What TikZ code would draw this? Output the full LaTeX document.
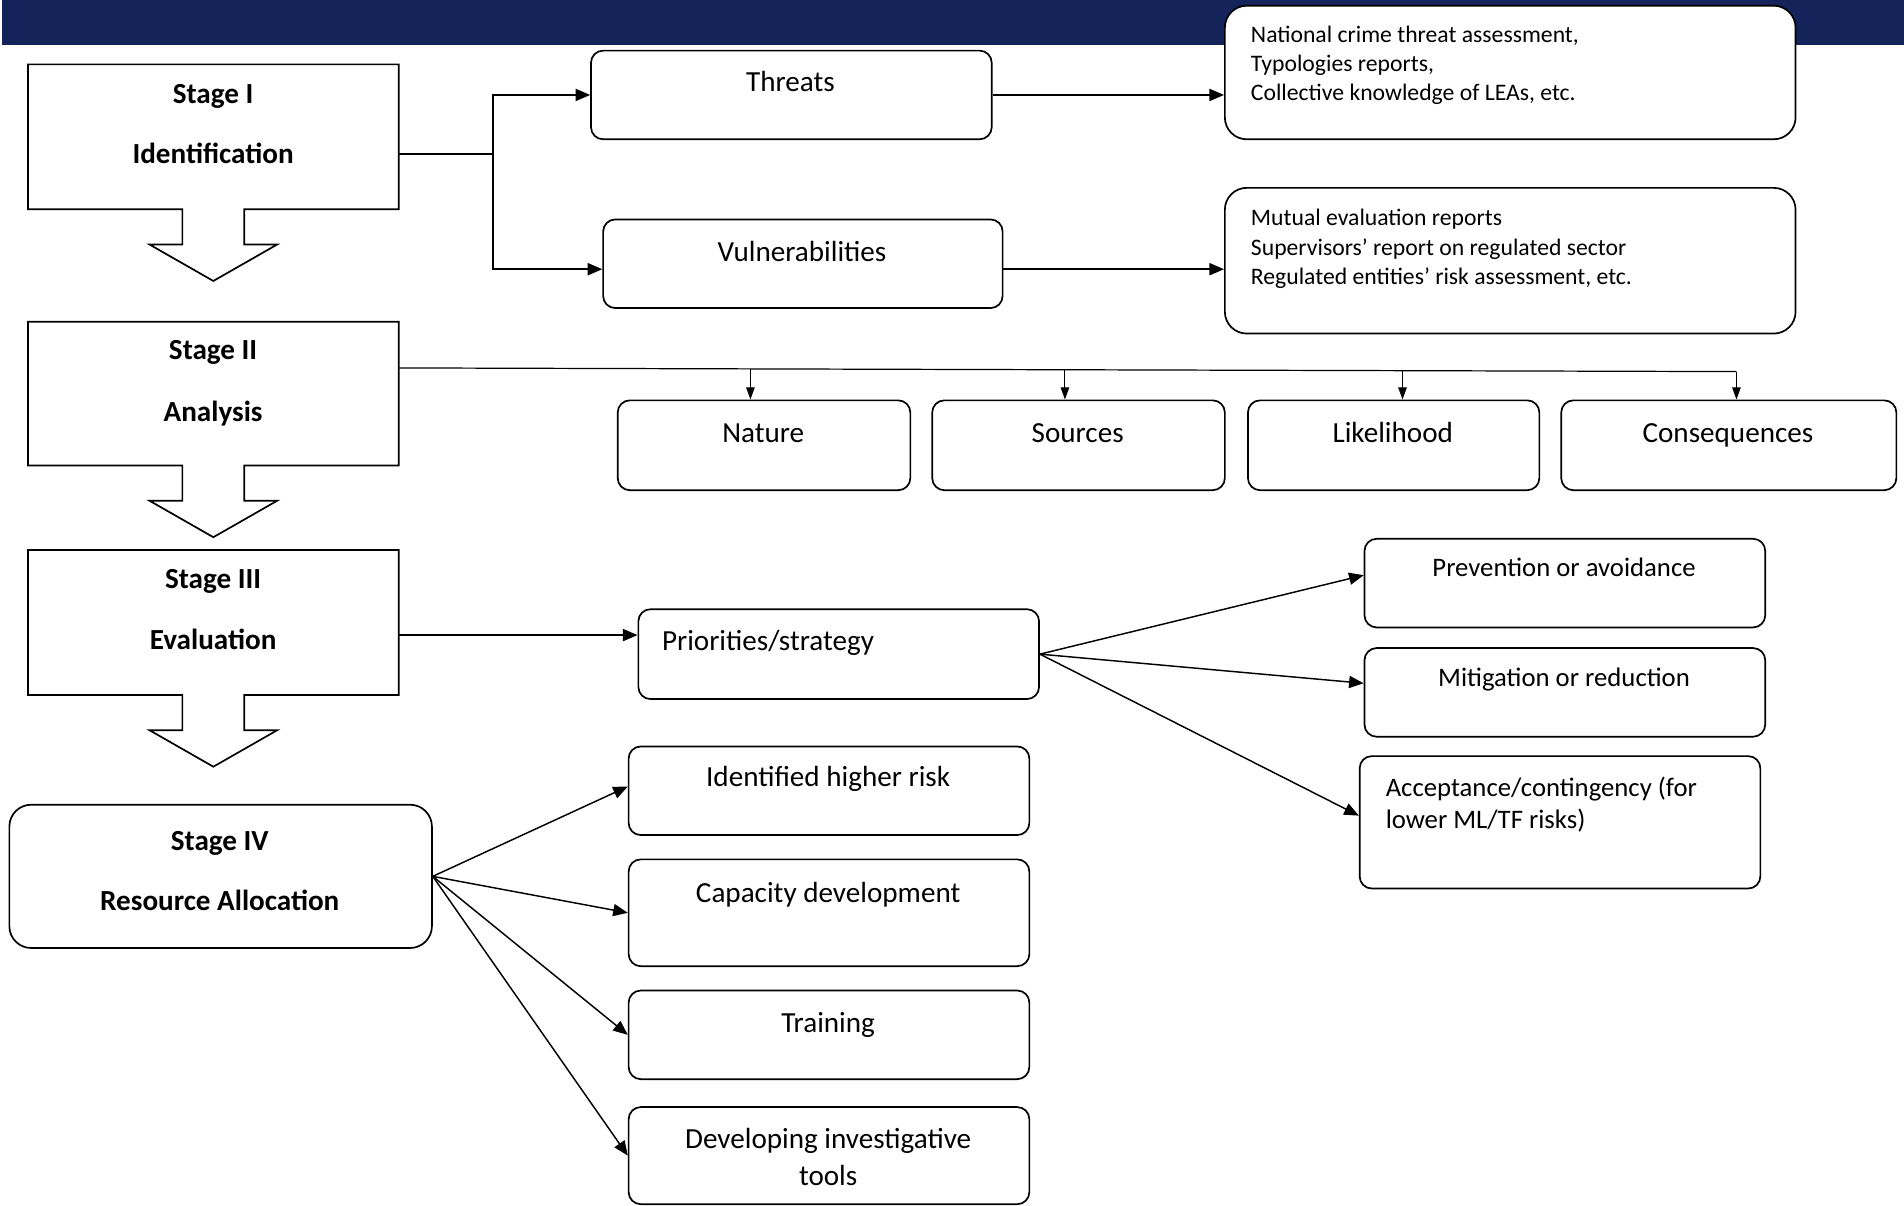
\documentclass[tikz,border=0pt]{standalone}
\usepackage{fontspec}
\setmainfont{Carlito}
\usetikzlibrary{arrows.meta,calc}
\definecolor{navy}{HTML}{14245A}
\newcommand\stgshape[1]{\draw[callout] (#1.north west) -- (#1.north east) -- (#1.south east) -- ($(#1.south)+(25.5,0)$) -- ++(0,29) -- ++(27,0) -- ($(#1.south)+(0,59)$) -- ($(#1.south)+(-52.5,29)$) -- ++(27,0) -- ($(#1.south)+(-25.5,0)$) -- (#1.south west) -- cycle;}
\begin{document}
\begin{tikzpicture}[x=1pt,y=-1pt,
  box/.style={draw, line width=1.4pt, fill=white, inner sep=0pt, anchor=north west},
  rbox/.style={box, rounded corners=10pt},
  bbox/.style={box, rounded corners=18pt},
  stg/.style={inner sep=0pt, anchor=north west},
  tl/.style={font=\fontsize{24}{29}\selectfont, inner sep=0pt, anchor=base},
  tb/.style={inner sep=0pt, anchor=base, font=\fontsize{24}{29}\selectfont\bfseries},
  tw/.style={font=\fontsize{24}{29}\selectfont, inner sep=0pt, anchor=base west},
  ts/.style={font=\fontsize{19.5}{24}\selectfont, inner sep=0pt, anchor=base west},
  tm/.style={font=\fontsize{22}{26}\selectfont, inner sep=0pt, anchor=base},
  tmw/.style={font=\fontsize{22}{26}\selectfont, inner sep=0pt, anchor=base west},
  arr/.style={line width=1.2pt, -{Triangle[length=12pt,width=10pt]}},
  tarr/.style={line width=0.9pt, -{Triangle[length=10pt,width=7pt]}},
  ln/.style={line width=1.2pt},
  callout/.style={draw, line width=1.4pt, line join=miter}
]
\useasboundingbox (0,0) rectangle (1568,993);
\fill[navy] (2,0) rectangle (1568,37);

% Stage boxes
\node[stg, minimum width=305pt, minimum height=119pt] (s1) at (23,53) {};
\node[stg, minimum width=305pt, minimum height=118pt] (s2) at (23,265) {};
\node[stg, minimum width=305pt, minimum height=119pt] (s3) at (23,453) {};
\stgshape{s1}
\stgshape{s2}
\stgshape{s3}
\node[tb] (s1a) at (175.5,85) {Stage I};
\node[tb] (s1b) at (175.5,135) {Identification};
\node[tb] (s2a) at (175.5,296) {Stage II};
\node[tb] (s2b) at (175.5,347) {Analysis};
\node[tb] (s3a) at (175.5,485) {Stage III};
\node[tb] (s3b) at (175.5,535) {Evaluation};
\node[bbox, minimum width=348pt, minimum height=118pt] (s4) at (7,662) {};
\node[tb] (s4a) at (181,700) {Stage IV};
\node[tb] (s4b) at (181,750) {Resource Allocation};

% Identification branch
\node[rbox, minimum width=330pt, minimum height=73pt] (threats) at (486,41) {};
\node[tl] (threatst) at (651,75) {Threats};
\node[rbox, minimum width=329pt, minimum height=73pt] (vul) at (496,180) {};
\node[tl] (vult) at (660.5,215) {Vulnerabilities};
\node[bbox, minimum width=470pt, minimum height=110pt] (ncta) at (1008,4) {};
\node[ts] (ncta1) at (1030,35) {National crime threat assessment,};
\node[ts] (ncta2) at (1030,59) {Typologies reports,};
\node[ts] (ncta3) at (1030,83) {Collective knowledge of LEAs, etc.};
\node[bbox, minimum width=470pt, minimum height=120pt] (me) at (1008,154) {};
\node[ts] (me1) at (1030,186) {Mutual evaluation reports};
\node[ts] (me2) at (1030,210) {Supervisors’ report on regulated sector};
\node[ts] (me3) at (1030,234) {Regulated entities’ risk assessment, etc.};

% Analysis branch
\node[rbox, minimum width=241pt, minimum height=74pt] (nature) at (508,329) {};
\node[tl] (naturet) at (628.5,364) {Nature};
\node[rbox, minimum width=241pt, minimum height=74pt] (sources) at (767,329) {};
\node[tl] (sourcest) at (887.5,364) {Sources};
\node[rbox, minimum width=240pt, minimum height=74pt] (likely) at (1027,329) {};
\node[tl] (likelyt) at (1147,364) {Likelihood};
\node[rbox, minimum width=276pt, minimum height=74pt] (conseq) at (1285,329) {};
\node[tl] (conseqt) at (1423,364) {Consequences};

% Evaluation branch
\node[rbox, minimum width=330pt, minimum height=74pt] (prio) at (525,501) {};
\node[tw] (priot) at (545,536) {Priorities/strategy};
\node[rbox, minimum width=330pt, minimum height=73pt] (prev) at (1123,443) {};
\node[tm] (prevt) at (1288,475) {Prevention or avoidance};
\node[rbox, minimum width=330pt, minimum height=73pt] (mitig) at (1123,533) {};
\node[tm] (mitigt) at (1288,565) {Mitigation or reduction};
\node[rbox, minimum width=330pt, minimum height=109pt] (accept) at (1119,622) {};
\node[tmw] (accept1) at (1141,656) {Acceptance/contingency (for};
\node[tmw] (accept2) at (1141,682) {lower ML/TF risks)};

% Resource allocation branch
\node[rbox, minimum width=330pt, minimum height=73pt] (ihr) at (517,614) {};
\node[tl] (ihrt) at (682,648) {Identified higher risk};
\node[rbox, minimum width=330pt, minimum height=88pt] (cap) at (517,707) {};
\node[tl] (capt) at (682,743) {Capacity development};
\node[rbox, minimum width=330pt, minimum height=73pt] (train) at (517,815) {};
\node[tl] (traint) at (682,850) {Training};
\node[rbox, minimum width=330pt, minimum height=80pt] (dev) at (517,911) {};
\node[tl] (dev1) at (682,946) {Developing investigative};
\node[tl] (dev2) at (682,976) {tools};

% Connectors: Stage I
\coordinate (h1) at (406,127);
\draw[ln] (s1.east |- h1) -- (h1);
\draw[arr] (h1) |- (threats.west);
\coordinate (v0) at ($(vul.west)+(0,4.5)$);
\draw[arr] (h1) |- (v0);
\draw[arr] (threats.east) -- (ncta.west |- threats.east);
\coordinate (v1) at ($(vul.east)+(0,4.5)$);
\draw[arr] (v1) -- (me.west |- v1);

% Connectors: Stage II
\coordinate (b0) at ($(s2.north east)+(0,38)$);
\coordinate (b1) at (618,303.8);
\coordinate (b2) at (877,304.5);
\coordinate (b3) at (1155,305.3);
\coordinate (b4) at (1430,306);
\draw[line width=1pt] (b0) -- (b4);
\draw[tarr] (b1) -- (nature.north -| b1);
\draw[tarr] (b2) -- (sources.north -| b2);
\draw[tarr] (b3) -- (likely.north -| b3);
\draw[tarr] (b4) -- (conseq.north -| b4);

% Connectors: Stage III
\coordinate (c0) at ($(s3.north east)+(0,70)$);
\draw[arr] (c0) -- (prio.west |- c0);
\draw[arr] (prio.east) -- ($(prev.west)+(0,-6.5)$);
\draw[arr] (prio.east) -- ($(mitig.west)+(0,-7.5)$);
\draw[arr] (prio.east) -- ($(accept.west)+(0,-5.5)$);

% Connectors: Stage IV
\draw[arr] (s4.east) -- ($(ihr.west)+(0,-3.5)$);
\draw[arr] (s4.east) -- (cap.west);
\draw[arr] (s4.east) -- (train.west);
\draw[arr] (s4.east) -- (dev.west);
\end{tikzpicture}
\end{document}
